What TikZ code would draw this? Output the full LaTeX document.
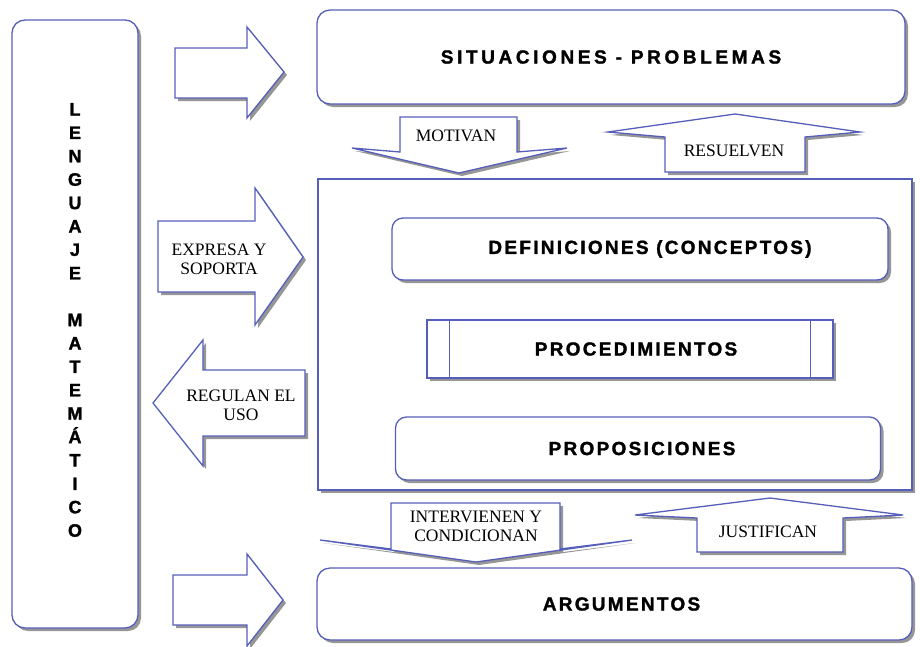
\documentclass[tikz,border=0pt]{standalone}
\usepackage{fontspec}
\setmainfont{Liberation Serif}
\newfontfamily\titlefont[LetterSpace=12,FakeBold=1.5]{Liberation Sans Bold}
\newfontfamily\sitfont[LetterSpace=19,FakeBold=1.5]{Liberation Sans Bold}
\newfontfamily\vertfont[FakeBold=1.5]{Liberation Sans Bold}
\usetikzlibrary{shadows}
\definecolor{edge}{RGB}{85,95,185}
\definecolor{shade}{RGB}{150,150,150}
\begin{document}
\begin{tikzpicture}[x=1pt,y=-1pt,
  blk/.style={draw=edge, line width=1.3pt, fill=white,
    drop shadow={shadow xshift=3pt, shadow yshift=-3pt, fill=shade, opacity=1}},
  rbox/.style={blk, rounded corners=13pt, inner sep=0pt},
  sbox/.style={blk, inner sep=0pt},
  ttl/.style={font=\titlefont\fontsize{19}{22}\selectfont},
  lbl/.style={font=\fontsize{17.5}{19}\selectfont, align=center, inner sep=0pt}]
\useasboundingbox (0,0) rectangle (920,646);

% left vertical box
\node[rbox, minimum width=126pt, minimum height=608pt] (leng) at (75,324) {};
\node[font=\vertfont\fontsize{18}{23.4}\selectfont, align=center, inner sep=0pt] (lengtxt) at (75,320)
  {L\\E\\N\\G\\U\\A\\J\\E\\[23.4pt]M\\A\\T\\E\\M\\Á\\T\\I\\C\\O};

% main boxes
\node[rbox, font=\sitfont\fontsize{19}{22}\selectfont, minimum width=588pt, minimum height=94pt] (sit) at (611,57) {SITUACIONES - PROBLEMAS};
\node[sbox, minimum width=594pt, minimum height=311pt] (big) at (615,334.5) {};
\node[rbox, ttl, rounded corners=11pt, minimum width=496pt, minimum height=62pt] (def) at (640,249) {\hspace{20pt}DEFINICIONES (CONCEPTOS)};
\node[sbox, ttl, minimum width=406pt, minimum height=58pt] (proc) at (630,349) {\hspace{12pt}PROCEDIMIENTOS};
\draw[draw=edge, line width=1.3pt] ([xshift=23pt]proc.north west) -- ([xshift=23pt]proc.south west);
\draw[draw=edge, line width=1.3pt] ([xshift=-23pt]proc.north east) -- ([xshift=-23pt]proc.south east);
\node[rbox, ttl, rounded corners=11pt, minimum width=485pt, minimum height=63pt] (prop) at (638,448.5) {\hspace{8pt}PROPOSICIONES};
\node[rbox, ttl, minimum width=595pt, minimum height=72pt] (arg) at (614.5,604) {\hspace{14pt}ARGUMENTOS};

% block arrows from the left box
\draw[blk] (175,48) -- (247,48) -- (247,27) -- (284,72) -- (247,118) -- (247,98) -- (175,98) -- cycle;
\draw[blk] (173,575) -- (247,575) -- (247,554) -- (283,600) -- (247,646) -- (247,625) -- (173,625) -- cycle;
\draw[blk] (158,221) -- (255,221) -- (255,188) -- (303,257) -- (255,325) -- (255,292) -- (158,292) -- cycle;
\node[lbl] (exp) at (219,259) {EXPRESA Y\\SOPORTA};
\draw[blk] (305,370) -- (203,370) -- (203,340) -- (153,403) -- (203,466) -- (203,436) -- (305,436) -- cycle;
\node[lbl] (reg) at (241,405) {REGULAN EL\\USO};

% vertical block arrows
\draw[blk] (400,117) -- (517,117) -- (517,152) -- (567,148) -- (459,173) -- (352,148) -- (400,152) -- cycle;
\node[lbl] (mot) at (456,136) {MOTIVAN};
\draw[blk] (665,172) -- (665,137) -- (608,132) -- (735,114) -- (860,132) -- (805,137) -- (805,172) -- cycle;
\node[lbl] (res) at (734,151) {RESUELVEN};
\draw[blk] (391,503) -- (560,503) -- (560,549) -- (632,540) -- (476,562) -- (320,540) -- (391,549) -- cycle;
\node[lbl] (int) at (476,526) {INTERVIENEN Y\\CONDICIONAN};
\draw[blk] (697,552) -- (697,518) -- (635,515) -- (770,498) -- (903,515) -- (843,518) -- (843,552) -- cycle;
\node[lbl] (jus) at (768,532) {JUSTIFICAN};
\end{tikzpicture}
\end{document}
